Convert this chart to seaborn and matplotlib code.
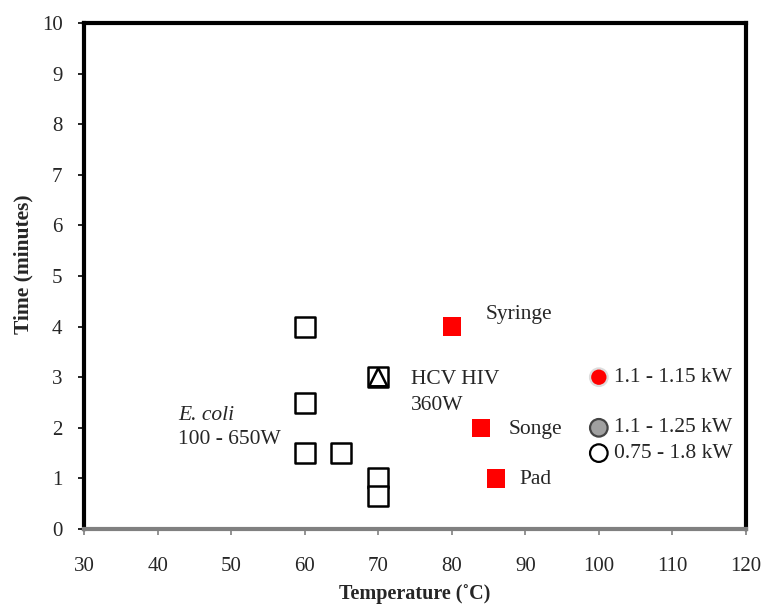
import matplotlib
matplotlib.use("Agg")
import matplotlib.pyplot as plt
import seaborn as sns
import pandas as pd

# Data
ecoli_temp = [60, 60, 60, 65, 70, 70, 70]
ecoli_time = [4, 2.5, 1.5, 1.5, 1.0, 0.65, 3.0]
hiv_temp = [70]
hiv_time = [3.0]
red_temp = [80, 84, 86]
red_time = [4, 2, 1]
red_labels = ["Syringe", "Songe", "Pad"]
legend_temp = [100, 100, 100]
legend_time = [3.0, 2.0, 1.5]
legend_colors = ["#ff0000", "#a0a0a0", "#ffffff"]
legend_labels = ["1.1 - 1.15 kW", "1.1 - 1.25 kW", "0.75 - 1.8 kW"]
xticks = [30, 40, 50, 60, 70, 80, 90, 100, 110, 120]
yticks = list(range(0, 11))

sns.set_theme(style="white")
plt.rcParams['font.family'] = ['Liberation Serif', 'DejaVu Serif']

fig = plt.figure(figsize=(7.65, 6.05), dpi=100)
ax = fig.add_axes([0.110, 0.1256, 0.865, 0.8364])

sns.scatterplot(x=ecoli_temp, y=ecoli_time, marker="s", s=210, facecolor="white",
                edgecolor="black", linewidth=1.8, ax=ax, zorder=3)
sns.scatterplot(x=hiv_temp, y=hiv_time, marker="^", s=170, facecolor="none",
                edgecolor="black", linewidth=1.8, ax=ax, zorder=4)
sns.scatterplot(x=red_temp, y=red_time, marker="s", s=175, color="#ff0000",
                edgecolor="none", ax=ax, zorder=3)
sns.scatterplot(x=legend_temp, y=legend_time, marker="o", s=160, c=legend_colors,
                edgecolor=["#dddddd", "#444444", "black"], linewidth=1.6, ax=ax, zorder=3)

fs = 15.5
offsets = [(4.6, 0.24), (3.8, -0.04), (3.2, -0.03)]
for t, y, lab, (dx, dy) in zip(red_temp, red_time, red_labels, offsets):
    ax.text(t + dx, y + dy, lab, fontsize=fs, va="center", ha="left")
for t, y, lab in zip(legend_temp, legend_time, legend_labels):
    ax.text(t + 2.1, y, lab, fontsize=fs, va="center", ha="left")
ax.text(74.5, 2.95, "HCV HIV", fontsize=fs, va="center", ha="left")
ax.text(74.5, 2.45, "360W", fontsize=fs, va="center", ha="left")
ax.text(42.8, 2.25, "E. coli", fontsize=fs, va="center", ha="left", style="italic")
ax.text(42.8, 1.77, "100 - 650W", fontsize=fs, va="center", ha="left")

ax.set_xlim(30, 120)
ax.set_ylim(0, 10)
ax.set_xticks(xticks)
ax.set_yticks(yticks)
ax.tick_params(axis="both", labelsize=15)
ax.tick_params(axis="y", direction="out", length=4.5, width=1.2, color="black", left=True, pad=11)
ax.tick_params(axis="x", direction="out", length=4.5, width=1.2, color="#808080", bottom=True, pad=16)

for side in ["left", "top", "right"]:
    ax.spines[side].set_color("black")
    ax.spines[side].set_linewidth(3)
ax.spines["bottom"].set_color("#808080")
ax.spines["bottom"].set_linewidth(3)

ax.set_xlabel("Temperature (\u02daC)", fontsize=14.5, fontweight="bold")
ax.set_ylabel("Time (minutes)", fontsize=15.5, fontweight="bold")
ax.xaxis.label.set_va("center")
ax.yaxis.label.set_va("center")
ax.xaxis.set_label_coords(0.5, -0.128)
ax.yaxis.set_label_coords(-0.092, 0.524)

fig.savefig("out.png", dpi=100)
